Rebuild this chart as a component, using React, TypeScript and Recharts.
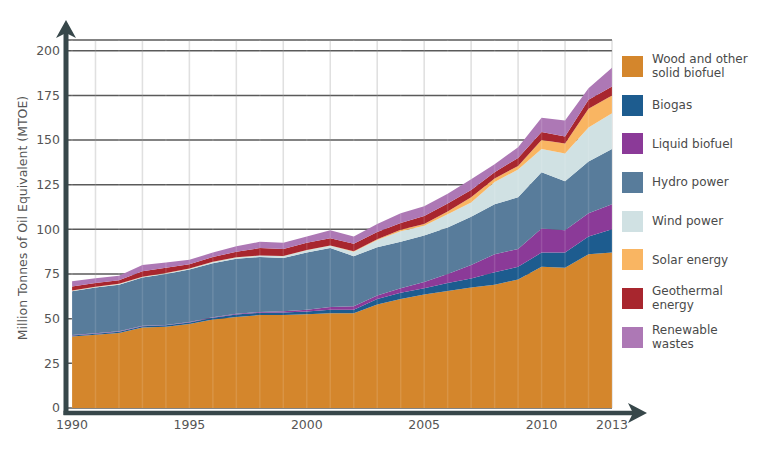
import { AreaChart, Area, XAxis, YAxis, CartesianGrid, ReferenceLine } from 'recharts'

// years on the x axis
const years = [1990, 1991, 1992, 1993, 1994, 1995, 1996, 1997, 1998, 1999, 2000, 2001,
  2002, 2003, 2004, 2005, 2006, 2007, 2008, 2009, 2010, 2011, 2012, 2013]
const xTicks = [1990, 1995, 2000, 2005, 2010, 2013]
const yTicks = [0, 25, 50, 75, 100, 125, 150, 175, 200]

// MTOE per source
const wood = [40, 41, 42, 45, 45.5, 47, 49.5, 51, 52, 52, 52.5, 53, 53, 58, 61, 63.5, 65.5, 67.5, 69, 72, 79, 78.5, 86, 87]
const biogas = [0.6, 0.6, 0.7, 0.8, 0.8, 0.9, 1, 1.3, 1.3, 1.5, 1.5, 2, 2, 3, 3.5, 3.5, 4.5, 5, 7, 7, 8, 8.5, 10, 13]
const liquid = [0.2, 0.2, 0.2, 0.2, 0.2, 0.3, 0.3, 0.4, 0.5, 0.7, 1, 1.5, 2, 2, 2.5, 3.5, 5, 7.5, 10, 10, 13.5, 12.5, 13, 14]
const hydro = [24.6, 25.7, 26.1, 27, 28.5, 29.3, 30.2, 30.8, 30.7, 29.8, 32, 33, 28, 27, 26, 26, 26, 27, 28, 29, 31.5, 27.5, 29, 31]
const wind = [0.3, 0.3, 0.4, 0.4, 0.5, 0.5, 0.7, 0.8, 0.8, 1, 1.3, 1.3, 2.5, 4, 6, 5.5, 7.5, 8, 12.5, 15.5, 13, 15.5, 19, 20]
const solar = [0.1, 0.1, 0.1, 0.1, 0.1, 0.1, 0.1, 0.1, 0.1, 0.1, 0.1, 0.2, 0.3, 0.5, 0.8, 1, 1.5, 3, 2, 2, 5, 5.5, 10.5, 10]
const geo = [2.2, 2.1, 2, 3, 2.9, 2.4, 2.7, 3.1, 4.1, 3.9, 4.1, 4, 4.2, 4, 3.7, 4.5, 4.5, 4, 3.5, 4.5, 4.5, 4, 5, 5]
const waste = [3, 2.6, 2.5, 3.5, 3, 2.5, 2.5, 3, 3.5, 3.5, 3.5, 4.5, 4, 4.5, 5.5, 5.5, 5.5, 6, 4.5, 6, 8, 9, 6.5, 10.5]

const series = [
  { key: 'wood', label: ['Wood and other', 'solid biofuel'], color: '#d4862c', values: wood },
  { key: 'biogas', label: ['Biogas'], color: '#1d5c8f', values: biogas },
  { key: 'liquid', label: ['Liquid biofuel'], color: '#8b3a98', values: liquid },
  { key: 'hydro', label: ['Hydro power'], color: '#587c9b', values: hydro },
  { key: 'wind', label: ['Wind power'], color: '#d0e1e3', values: wind },
  { key: 'solar', label: ['Solar energy'], color: '#f9b562', values: solar },
  { key: 'geo', label: ['Geothermal', 'energy'], color: '#a8262e', values: geo },
  { key: 'waste', label: ['Renewable', 'wastes'], color: '#ad78b5', values: waste },
]

const data = years.map((year, i) => {
  const row: Record<string, number> = { year }
  series.forEach(s => { row[s.key] = s.values[i] })
  return row
})

const FONT = '"DejaVu Sans", Verdana, sans-serif'
const AXIS = '#37474a'

const YLabel = ({ viewBox }: any) => {
  const x = viewBox.x + 22
  const y = viewBox.y + viewBox.height / 2 - 6
  return (
    <text x={x} y={y} transform={`rotate(-90, ${x}, ${y})`} textAnchor="middle"
      dominantBaseline="central" fill="#555" fontSize={12.5} fontFamily={FONT}>
      Million Tonnes of Oil Equivalent (MTOE)
    </text>
  )
}

export default function App() {
  return (
    <div style={{ position: 'absolute', left: 0, top: 0, width: 764, height: 456, background: '#fff', fontFamily: FONT }}>
      <AreaChart width={764} height={456} data={data} margin={{ top: 40, right: 152, bottom: 18, left: 0 }}>
        <CartesianGrid horizontal={false} verticalValues={years} stroke="#dcdcdc" strokeWidth={1.5} />
        <CartesianGrid vertical={false} stroke="#5a5a5a" strokeWidth={1.5} />
        <XAxis
          dataKey="year"
          type="number"
          domain={[1990, 2013]}
          ticks={xTicks}
          padding={{ left: 6, right: 0 }}
          axisLine={false}
          tickLine={false}
          tickSize={0}
          tickMargin={12}
          height={30}
          tick={{ fill: '#555', fontSize: 12.5, fontFamily: FONT }}
        />
        <YAxis
          type="number"
          domain={[0, 206]}
          ticks={yTicks}
          axisLine={false}
          tickLine={false}
          tickSize={0}
          tickMargin={6}
          width={66}
          tick={{ fill: '#555', fontSize: 12.5, fontFamily: FONT }}
          label={<YLabel />}
        />
        {series.map(s => (
          <Area
            key={s.key}
            dataKey={s.key}
            stackId="1"
            type="linear"
            fill={s.color}
            fillOpacity={1}
            stroke="none"
            isAnimationActive={false}
          />
        ))}
        {years.map(y => (
          <ReferenceLine key={y} x={y} stroke="#ffffff" strokeOpacity={0.12} strokeWidth={1.5} />
        ))}
      </AreaChart>

      {/* axis lines with arrow heads */}
      <svg width={764} height={456} style={{ position: 'absolute', left: 0, top: 0, pointerEvents: 'none' }}>
        <line x1={66} y1={30} x2={66} y2={415} stroke={AXIS} strokeWidth={5} />
        <line x1={63.5} y1={413} x2={636} y2={413} stroke={AXIS} strokeWidth={4.5} />
        <path d="M66,20 L76,38 L66,33 L56,38 Z" fill={AXIS} />
        <path d="M647,413 L628,403 L633,413 L628,423 Z" fill={AXIS} />
      </svg>

      {/* legend */}
      <div style={{ position: 'absolute', left: 622, top: 47 }}>
        {series.map(s => (
          <div key={s.key} style={{ display: 'flex', alignItems: 'center', height: 38.7 }}>
            <div style={{ width: 21, height: 21, background: s.color, flex: 'none' }} />
            <div style={{ marginLeft: 9, fontSize: 12, lineHeight: '14px', color: '#4a4a4a' }}>
              {s.label.map(l => <div key={l}>{l}</div>)}
            </div>
          </div>
        ))}
      </div>
    </div>
  )
}
